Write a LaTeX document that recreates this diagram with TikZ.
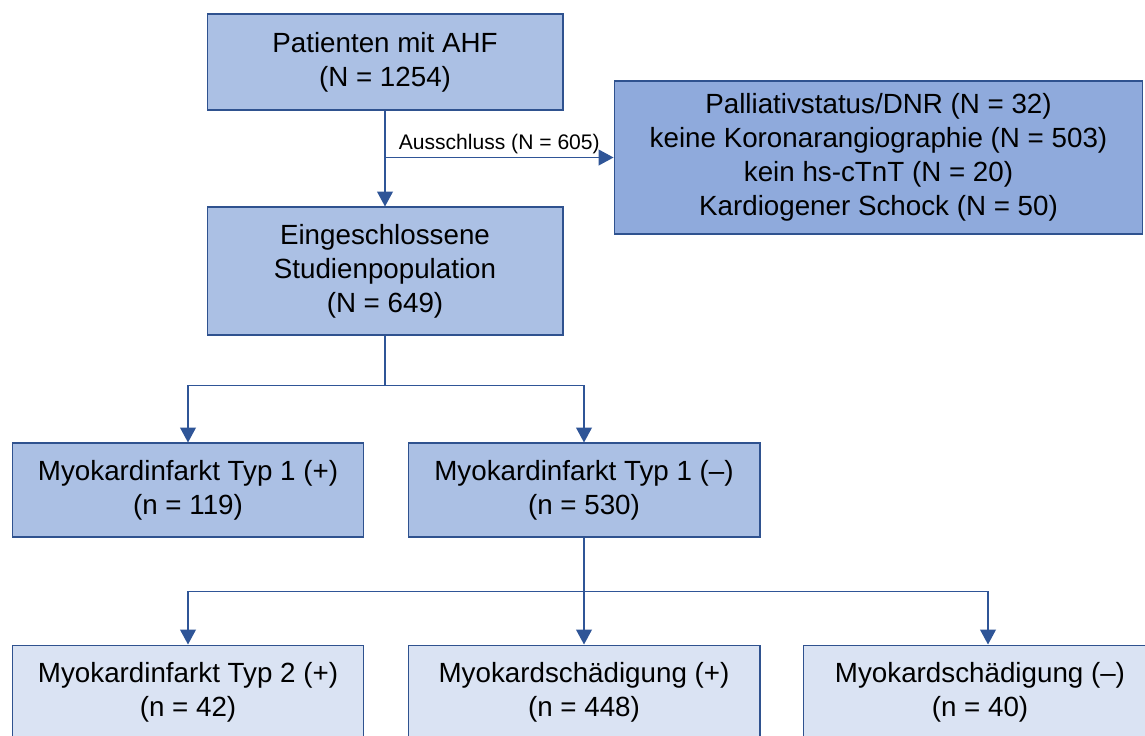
\documentclass[tikz,border=0pt]{standalone}
\usepackage{fontspec}
\setmainfont{Liberation Sans}
\usetikzlibrary{arrows.meta}
\definecolor{boxline}{HTML}{2F528F}
\definecolor{arrline}{HTML}{2F5597}
\definecolor{fillmid}{HTML}{ABC0E4}
\definecolor{filldark}{HTML}{8FAADC}
\definecolor{filllight}{HTML}{DAE3F3}
\begin{document}
\begin{tikzpicture}[x=0.02cm, y=-0.02cm,
    box/.style={draw=boxline, line width=0.6pt, align=center, inner sep=0pt,
      font=\fontsize{15.8}{19.3}\selectfont},
    arr/.style={draw=arrline, line width=0.85pt, -{Triangle[width=9pt, length=8.5pt]}},
    lab/.style={font=\fontsize{12}{14}\selectfont, inner sep=1.5pt}]
      \useasboundingbox (0, 0) rectangle (1145, 735);
      \clip (0, 0) rectangle (1145, 735);
      \node (ahf) [box, fill=fillmid, minimum width=7.12cm, minimum height=1.92cm]
            at (385, 62) {Patienten mit AHF\\(N = 1254)};
      \node (excl) [box, fill=filldark, minimum width=10.58cm, minimum height=3.06cm]
            at (878.5, 157.5) {Palliativstatus/DNR (N = 32)\\keine Koronarangiographie (N = 503)\\kein hs-cTnT (N = 20)\\Kardiogener Schock (N = 50)};
      \node (incl) [box, fill=fillmid, minimum width=7.12cm, minimum height=2.56cm]
            at (385, 271) {Eingeschlossene\\Studienpopulation\\(N = 649)};
      \node (mipos) [box, fill=fillmid, minimum width=7.04cm, minimum height=1.88cm]
            at (188, 490) {Myokardinfarkt Typ 1 (+)\\(n = 119)};
      \node (mineg) [box, fill=fillmid, minimum width=7.04cm, minimum height=1.88cm]
            at (584, 490) {Myokardinfarkt Typ 1 (--)\\(n = 530)};
      \node (mitwo) [box, fill=filllight, minimum width=7.04cm, minimum height=1.88cm]
            at (188, 692) {Myokardinfarkt Typ 2 (+)\\(n = 42)};
      \node (mspos) [box, fill=filllight, minimum width=7.04cm, minimum height=1.88cm]
            at (584, 692) {Myokardschädigung (+)\\(n = 448)};
      \node (msneg) [box, fill=filllight, minimum width=7.08cm, minimum height=1.88cm]
            at (980, 692) {Myokardschädigung (--)\\(n = 40)};
      \draw[arr] (ahf) -- (incl);
      \draw[arr] (ahf.south |- excl.west) -- node [above, lab] {Ausschluss (N = 605)} (excl);
      \draw[arr] (incl.south) -- ++(0, 50) -| (mipos);
      \draw[arr] (incl.south) -- ++(0, 50) -| (mineg);
      \draw[arr] (mineg.south) -- ++(0, 54) -| (mitwo);
      \draw[arr] (mineg.south) -- (mspos);
      \draw[arr] (mineg.south) -- ++(0, 54) -| ([xshift=0.16cm]msneg.north);
\end{tikzpicture}
\end{document}
